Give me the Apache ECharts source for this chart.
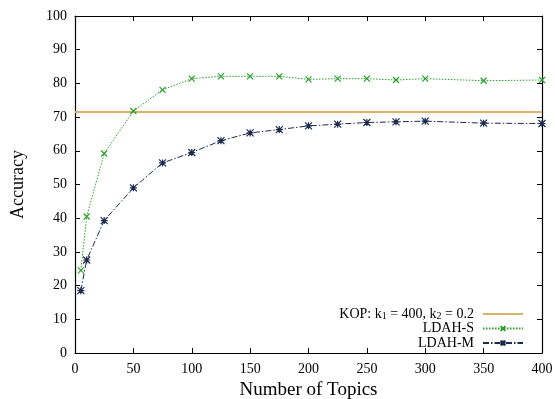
<!DOCTYPE html>
<html><head><meta charset="utf-8">
<script src="https://cdn.jsdelivr.net/npm/echarts@6/dist/echarts.min.js"></script>
<style>html,body{margin:0;padding:0;background:#fff}#c{width:555px;height:399px}</style>
</head><body><div id="c"></div>
<script>
var topics = [5, 10, 25, 50, 75, 100, 125, 150, 175, 200, 225, 250, 275, 300, 350, 400];
var ldahS = [24.5, 40.5, 59.2, 71.8, 78.1, 81.4, 82.1, 82.1, 82.1, 81.2, 81.4, 81.4, 81.0, 81.4, 80.8, 81.0];
var ldahM = [18.5, 27.6, 39.3, 49.0, 56.4, 59.5, 63.0, 65.3, 66.3, 67.4, 67.9, 68.4, 68.6, 68.8, 68.2, 68.1];
var kopValue = 71.5;
var kopRange = [0, 400];
var xTicks = [0, 50, 100, 150, 200, 250, 300, 350, 400];
var yTicks = [0, 10, 20, 30, 40, 50, 60, 70, 80, 90, 100];

var font = 'Liberation Serif';
var chart = echarts.init(document.getElementById('c'));
var xSym = 'path://M0,0L10,10M10,0L0,10';
var starSym = 'path://M0,0L10,10M10,0L0,10M5,0L5,10M0,5L10,5';
function pair(xs, ys){ return xs.map(function(x,i){return [x, ys[i]];}); }
var axisLine = {show:true, onZero:false, lineStyle:{color:'#000', width:1.2}};
var tick = {inside:true, length:5, lineStyle:{color:'#000'}};
chart.setOption({
  animation:false,
  grid:{left:75, right:13, top:16, bottom:46, containLabel:false, outerBoundsMode:'none'},
  legend:{
    right:26, bottom:44, orient:'vertical', align:'right', itemGap:0.5,
    itemWidth:40, itemHeight:6,
    textStyle:{fontFamily:font, fontSize:14, color:'#000', lineHeight:14, padding:[0,4,0,0],
      rich:{sub:{fontFamily:font, fontSize:10, verticalAlign:'bottom', padding:[5,0,0,0]}}},
    formatter:function(n){ return n==='KOP' ? 'KOP: k{sub|1} = 400, k{sub|2} = 0.2' : n; },
    data:[{name:'KOP', itemStyle:{opacity:0}},'LDAH-S','LDAH-M']
  },
  xAxis:[{
    type:'value', min:0, max:400, interval:50,
    name:'Number of Topics', nameLocation:'middle', nameGap:28,
    nameTextStyle:{fontFamily:font, fontSize:19, color:'#000'},
    axisLine:axisLine, axisTick:tick,
    axisLabel:{fontFamily:font, fontSize:14, color:'#000', margin:9},
    splitLine:{show:false}
  },{
    type:'value', position:'top', min:0, max:400, interval:50,
    axisLine:axisLine, axisTick:tick,
    axisLabel:{show:false}, splitLine:{show:false}
  }],
  yAxis:[{
    type:'value', min:0, max:100, interval:10,
    name:'Accuracy', nameLocation:'middle', nameGap:48, nameRotate:90,
    nameTextStyle:{fontFamily:font, fontSize:18, color:'#000'},
    axisLine:axisLine, axisTick:tick,
    axisLabel:{fontFamily:font, fontSize:14, color:'#000', margin:8},
    splitLine:{show:false}
  },{
    type:'value', position:'right', min:0, max:100, interval:10,
    axisLine:axisLine, axisTick:tick,
    axisLabel:{show:false}, splitLine:{show:false}
  }],
  series:[{
    name:'KOP', type:'line', symbol:'none',
    data:kopRange.map(function(x){return [x, kopValue];}),
    lineStyle:{color:'#d6b56a', width:2}, itemStyle:{color:'#d6b56a'}
  },{
    name:'LDAH-S', type:'line', symbol:xSym, symbolSize:6,
    data:pair(topics, ldahS),
    lineStyle:{color:'#2aa02a', width:1, type:[1.5,1.5]},
    itemStyle:{color:'#2aa02a', borderColor:'#2aa02a', borderWidth:1.2}
  },{
    name:'LDAH-M', type:'line', symbol:starSym, symbolSize:7,
    data:pair(topics, ldahM),
    lineStyle:{color:'#1c2a4f', width:1, type:[6,2,1.5,2]},
    itemStyle:{color:'#1c2a4f', borderColor:'#1c2a4f', borderWidth:1.2}
  }]
});
</script></body></html>
